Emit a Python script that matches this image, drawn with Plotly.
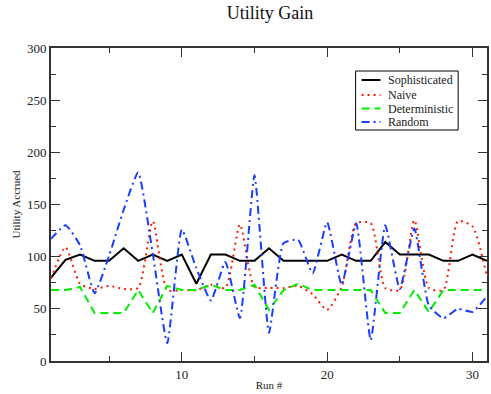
import plotly.graph_objects as go

# Utility accrued per run for each strategy
runs = list(range(1, 32))
sophisticated = [80, 97, 102, 96, 96, 108, 96, 102, 96, 102, 74, 102, 102, 96, 96, 108,
                 96, 96, 96, 96, 102, 96, 96, 114, 102, 102, 102, 96, 96, 102, 96]
naive = [79, 109, 74, 69, 72, 69, 70, 134, 68, 68, 68, 73, 70, 131, 71, 70,
         70, 72, 64, 49, 71, 132, 132, 70, 68, 135, 70, 68, 134, 129, 80]
deterministic = [68, 68, 71, 46, 46, 46, 68, 46, 72, 68, 68, 73, 68, 68, 73, 49,
                 68, 74, 68, 68, 68, 68, 68, 46, 46, 68, 47, 68, 68, 68, 68]
random_strategy = [117, 130, 111, 65, 101, 145, 181, 103, 17, 126, 89, 58, 95, 41, 178, 27,
                   113, 116, 84, 133, 73, 132, 20, 130, 69, 127, 53, 41, 50, 47, 62]

series_names = ["Sophisticated", "Naive", "Deterministic", "Random"]
series_values = [sophisticated, naive, deterministic, random_strategy]
colors = ["#000000", "#ff1a00", "#00ee00", "#1a3cff"]
dashes = ["solid", "2px,4px", "8px,5px", "8px,4px,2px,4px"]
shapes_kind = ["linear", "spline", "linear", "spline"]
smoothing = [0, 0.6, 0, 0.45]

W, H = 491, 394
ML, MR, MT, MB = 51, 2, 48, 33
PW, PH = W - ML - MR, H - MT - MB

FONT = "Liberation Serif"

fig = go.Figure()
for name, vals, col, dash, shp, sm in zip(series_names, series_values, colors, dashes,
                                           shapes_kind, smoothing):
    line = dict(color=col, width=2, dash=dash, shape=shp)
    if shp == "spline":
        line["smoothing"] = sm
    fig.add_trace(go.Scatter(x=runs, y=vals, mode="lines", name=name,
                             line=line, showlegend=False))

# Hand-built legend box (compact row spacing)
def px_to_paper(px, py):
    return (px - ML) / PW, (H - MB - py) / PH

shapes = []
annotations = []
bx0, by0 = px_to_paper(357, 71)
bx1, by1 = px_to_paper(460, 130)
shapes.append(dict(type="rect", xref="paper", yref="paper", x0=bx0, y0=by1, x1=bx1, y1=by0,
                   line=dict(color="#000000", width=1), fillcolor="white", layer="above"))
row_y = [80, 95, 108.5, 122]
for name, col, dash, ry in zip(series_names, colors, dashes, row_y):
    lx0, ly = px_to_paper(363, ry)
    lx1, _ = px_to_paper(382, ry)
    shapes.append(dict(type="line", xref="paper", yref="paper", x0=lx0, x1=lx1, y0=ly, y1=ly,
                       line=dict(color=col, width=2, dash=dash), layer="above"))
    tx, _ = px_to_paper(388, ry)
    annotations.append(dict(text=name, xref="paper", yref="paper", x=tx, y=ly,
                            xanchor="left", yanchor="middle", showarrow=False,
                            font=dict(family=FONT, size=12, color="#222222")))

axis_common = dict(
    showgrid=False, zeroline=False, showline=True, linecolor="#333333", linewidth=2,
    mirror="ticks", ticks="inside", ticklen=9, tickwidth=1, tickcolor="#333333",
    tickfont=dict(family=FONT, size=13, color="#222222"),
)

fig.update_layout(
    width=W, height=H,
    margin=dict(l=ML, r=MR, t=MT, b=MB),
    paper_bgcolor="white", plot_bgcolor="white",
    font=dict(family=FONT),
    title=dict(text="Utility Gain", x=0.55, xanchor="center", y=1 - 13 / H, yanchor="middle",
               font=dict(family=FONT, size=18, color="#111111")),
    xaxis=dict(range=[1, 31], tick0=0, dtick=10,
               minor=dict(dtick=5, ticks="inside", ticklen=5, tickcolor="#333333", showgrid=False),
               title=dict(text="Run #", font=dict(family=FONT, size=11, color="#222222"), standoff=1),
               **axis_common),
    yaxis=dict(range=[0, 300], tick0=0, dtick=50,
               minor=dict(dtick=25, ticks="inside", ticklen=5, tickcolor="#333333", showgrid=False),
               title=dict(text="Utility Accrued", font=dict(family=FONT, size=11, color="#222222"), standoff=4),
               **axis_common),
    shapes=shapes,
    annotations=annotations,
    showlegend=False,
)

fig.write_html("out.html")
